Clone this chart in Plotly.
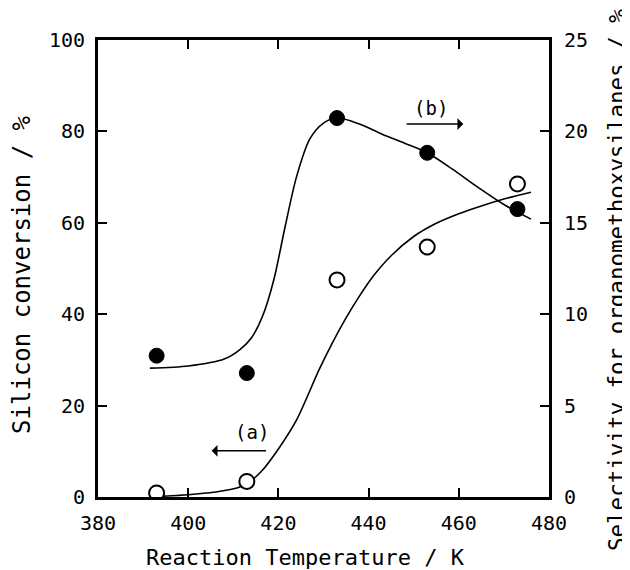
import plotly.graph_objects as go

# Measured points
temp_pts = [393, 413, 433, 453, 473]
conversion_pts = [0.9, 3.4, 47.5, 54.7, 68.5]          # (a) open circles, left axis, %
selectivity_pts = [7.73, 6.78, 20.73, 18.83, 15.75]     # (b) filled circles, right axis, %

# Smooth curves
curve_a_t = [393, 400, 406, 411, 414, 416.5, 420, 424, 429, 432, 435, 438, 441, 445, 450, 455, 460, 465, 470, 476]
curve_a_v = [0.1, 0.5, 1.1, 2.0, 3.6, 5.9, 10.5, 16.8, 27.8, 33.8, 39.2, 44.0, 48.3, 52.8, 57.0, 59.9, 62.0, 63.7, 65.2, 66.7]
curve_b_t = [391.5, 400, 408, 411.4, 414, 416.5, 419, 421.5, 424, 427, 430, 433, 438, 443, 448, 453, 458.5, 464.5, 470, 476]
curve_b_v = [7.05, 7.17, 7.55, 8.05, 8.7, 9.9, 11.9, 14.8, 17.5, 19.6, 20.45, 20.75, 20.4, 19.85, 19.35, 18.83, 17.95, 16.9, 16.0, 15.2]

x_ticks = [380, 400, 420, 440, 460, 480]
y1_ticks = [0, 20, 40, 60, 80, 100]
y2_ticks = [0, 5, 10, 15, 20, 25]

FONT = "DejaVu Sans Mono"

fig = go.Figure()
fig.add_trace(go.Scatter(x=curve_a_t, y=curve_a_v, mode="lines",
                         line=dict(color="black", width=1.6, shape="spline", smoothing=0.8),
                         showlegend=False, hoverinfo="skip"))
fig.add_trace(go.Scatter(x=curve_b_t, y=curve_b_v, mode="lines", yaxis="y2",
                         line=dict(color="black", width=1.6, shape="spline", smoothing=0.8),
                         showlegend=False, hoverinfo="skip"))
fig.add_trace(go.Scatter(x=temp_pts, y=conversion_pts, mode="markers",
                         marker=dict(symbol="circle", size=15, color="white",
                                     line=dict(color="black", width=2)),
                         showlegend=False))
fig.add_trace(go.Scatter(x=temp_pts, y=selectivity_pts, mode="markers", yaxis="y2",
                         marker=dict(symbol="circle", size=15, color="black",
                                     line=dict(color="black", width=1)),
                         showlegend=False))

axis_common = dict(showgrid=False, zeroline=False, showline=True, linecolor="black",
                   linewidth=3, ticks="inside", ticklen=9, tickwidth=1.5, tickcolor="black",
                   tickfont=dict(family=FONT, size=20, color="black"))

title_font = dict(family=FONT, size=22, color="black")

fig.update_layout(
    width=622, height=562,
    margin=dict(l=90, r=81, t=32, b=73),
    paper_bgcolor="white", plot_bgcolor="white",
    xaxis=dict(range=[380, 480], tickvals=x_ticks, mirror="ticks", ticklabelstandoff=6,
               **axis_common),
    yaxis=dict(range=[0, 100], tickvals=y1_ticks, ticklabelstandoff=6, **axis_common),
    yaxis2=dict(range=[0, 25], tickvals=y2_ticks, overlaying="y", side="right",
                ticklabelstandoff=8, **axis_common),
    annotations=[
        dict(x=0.459, y=-0.132, xref="paper", yref="paper", text="Reaction Temperature / K",
             showarrow=False, font=title_font, xanchor="center", yanchor="middle"),
        dict(x=-0.1685, y=0.486, xref="paper", yref="paper", text="Silicon conversion / %",
             showarrow=False, textangle=-90, font=dict(family=FONT, size=24, color="black"),
             xanchor="center", yanchor="middle"),
        dict(x=1.151, y=0.475, xref="paper", yref="paper",
             text="Selectivity for organomethoxysilanes / %",
             showarrow=False, textangle=-90, font=dict(family=FONT, size=22.5, color="black"),
             xanchor="center", yanchor="middle"),
        dict(x=414.1, y=14.2, xref="x", yref="y", text="(a)", showarrow=False,
             font=dict(family=FONT, size=19, color="black")),
        dict(x=405.2, y=10.1, ax=417.6, ay=10.1, xref="x", yref="y", axref="x", ayref="y",
             text="", showarrow=True, arrowhead=1, arrowsize=1.3, arrowwidth=1.5, arrowcolor="black"),
        dict(x=453.9, y=85.1, xref="x", yref="y", text="(b)", showarrow=False,
             font=dict(family=FONT, size=19, color="black")),
        dict(x=461.0, y=81.6, ax=448.1, ay=81.6, xref="x", yref="y", axref="x", ayref="y",
             text="", showarrow=True, arrowhead=1, arrowsize=1.3, arrowwidth=1.5, arrowcolor="black"),
    ],
)

fig.write_html("out.html")
